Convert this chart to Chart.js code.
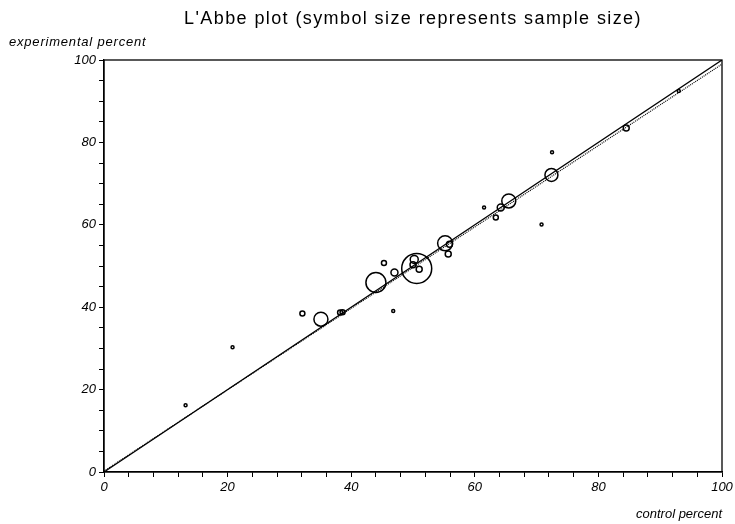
<!DOCTYPE html>
<html lang="en">
<head>
    <meta charset="UTF-8">
    <title>L'Abbe plot</title>
    <script src="https://cdn.jsdelivr.net/npm/chart.js"></script>
    <style>
        html, body {
            margin: 0;
            padding: 0;
            width: 735px;
            height: 524px;
            background: #fff;
            overflow: hidden;
        }
        #chartContainer {
            width: 735px;
            height: 524px;
            position: relative;
        }
    </style>
</head>
<body>
    <div id="chartContainer">
        <canvas id="labbeChart" width="735" height="524"></canvas>
    </div>
    <script>
        // control percent, experimental percent, estimated sample size per study
        const controlPct = [13.2, 20.8, 32.1, 35.1, 38.2, 38.6, 46.8, 44.0, 45.3, 47.0,
                            50.6, 50.2, 50.0, 51.0, 55.2, 55.9, 55.7, 70.8, 72.5, 72.4,
                            65.5, 64.2, 61.5, 63.4, 84.5, 93.0];
        const experimentalPct = [16.2, 30.3, 38.5, 37.1, 38.7, 38.8, 39.1, 46.0, 50.7, 48.4,
                                 49.4, 51.6, 50.3, 49.2, 55.5, 55.3, 52.9, 60.1, 77.6, 72.1,
                                 65.8, 64.2, 64.2, 61.8, 83.5, 92.5];
        const sampleSize = [9, 9, 25, 196, 25, 25, 9, 400, 25, 49,
                            900, 64, 36, 36, 225, 36, 36, 9, 9, 169,
                            196, 49, 9, 25, 36, 9];

        // line of equality and the fitted (dotted) line
        const equalityLine = [[0, 0], [100, 100]];
        const fittedLine = [[0, 0.2], [100, 99]];

        const xTicks = [0, 20, 40, 60, 80, 100];
        const yTicks = [0, 20, 40, 60, 80, 100];

        const bubbles = controlPct.map((x, i) => ({
            x: x,
            y: experimentalPct[i],
            r: Math.sqrt(sampleSize[i]) / 2
        }));

        const frame = {
            id: 'frame',
            afterDraw(chart) {
                const { ctx, chartArea: a } = chart;
                ctx.save();
                ctx.strokeStyle = '#000';
                ctx.lineWidth = 1.3;
                ctx.strokeRect(a.left, a.top, a.right - a.left, a.bottom - a.top);
                ctx.fillStyle = '#000';
                ctx.font = '18px "Liberation Sans", Arial, sans-serif';
                ctx.letterSpacing = '1.4px';
                ctx.textAlign = 'center';
                ctx.textBaseline = 'middle';
                ctx.fillText("L'Abbe plot (symbol size represents sample size)", 413, 19);
                ctx.font = 'italic 13px "Liberation Sans", Arial, sans-serif';
                ctx.letterSpacing = '0.8px';
                ctx.textAlign = 'left';
                ctx.fillText('experimental percent', 9, 42);
                ctx.restore();
            }
        };

        const tickFont = { family: '"Liberation Sans", Arial, sans-serif', size: 13, style: 'italic' };

        const ctx = document.getElementById('labbeChart');
        new Chart(ctx, {
            type: 'bubble',
            data: {
                datasets: [{
                    data: bubbles,
                    borderColor: '#000',
                    backgroundColor: 'rgba(0,0,0,0)',
                    borderWidth: 1.5
                }, {
                    type: 'scatter',
                    data: equalityLine.map(p => ({ x: p[0], y: p[1] })),
                    showLine: true,
                    borderColor: '#000',
                    borderWidth: 1.3,
                    pointRadius: 0
                }, {
                    type: 'scatter',
                    data: fittedLine.map(p => ({ x: p[0], y: p[1] })),
                    showLine: true,
                    borderColor: '#000',
                    borderWidth: 1.2,
                    borderDash: [1, 1],
                    pointRadius: 0
                }]
            },
            options: {
                responsive: false,
                animation: false,
                layout: { autoPadding: false, padding: { left: 0, top: 60, right: 13, bottom: 0 } },
                plugins: {
                    legend: { display: false },
                    tooltip: { enabled: false }
                },
                scales: {
                    x: {
                        type: 'linear',
                        min: 0,
                        max: 100,
                        afterFit(scale) {
                            scale.height = 52;
                            scale.paddingLeft = 0;
                            scale.paddingRight = 0;
                        },
                        afterBuildTicks(scale) {
                            const t = [];
                            for (let v = 0; v <= 100; v += 4) t.push({ value: v });
                            scale.ticks = t;
                        },
                        border: { color: '#000', width: 1.3 },
                        grid: { drawOnChartArea: false, drawTicks: true, tickLength: 5, tickColor: '#000' },
                        ticks: {
                            color: '#000',
                            padding: 3,
                            maxRotation: 0,
                            autoSkip: false,
                            font: tickFont,
                            callback: v => xTicks.includes(v) ? String(v) : ''
                        },
                        title: {
                            display: true,
                            text: 'control percent',
                            align: 'end',
                            color: '#000',
                            padding: { top: 0, bottom: 2 },
                            font: tickFont
                        }
                    },
                    y: {
                        type: 'linear',
                        min: 0,
                        max: 100,
                        afterFit(scale) {
                            scale.width = 104;
                            scale.paddingTop = 0;
                            scale.paddingBottom = 0;
                        },
                        afterBuildTicks(scale) {
                            const t = [];
                            for (let v = 0; v <= 100; v += 5) t.push({ value: v });
                            scale.ticks = t;
                        },
                        border: { color: '#000', width: 1.3 },
                        grid: { drawOnChartArea: false, drawTicks: true, tickLength: 5, tickColor: '#000' },
                        ticks: {
                            color: '#000',
                            padding: 3,
                            autoSkip: false,
                            font: tickFont,
                            callback: v => yTicks.includes(v) ? String(v) : ''
                        }
                    }
                }
            },
            plugins: [frame]
        });
    </script>
</body>
</html>
